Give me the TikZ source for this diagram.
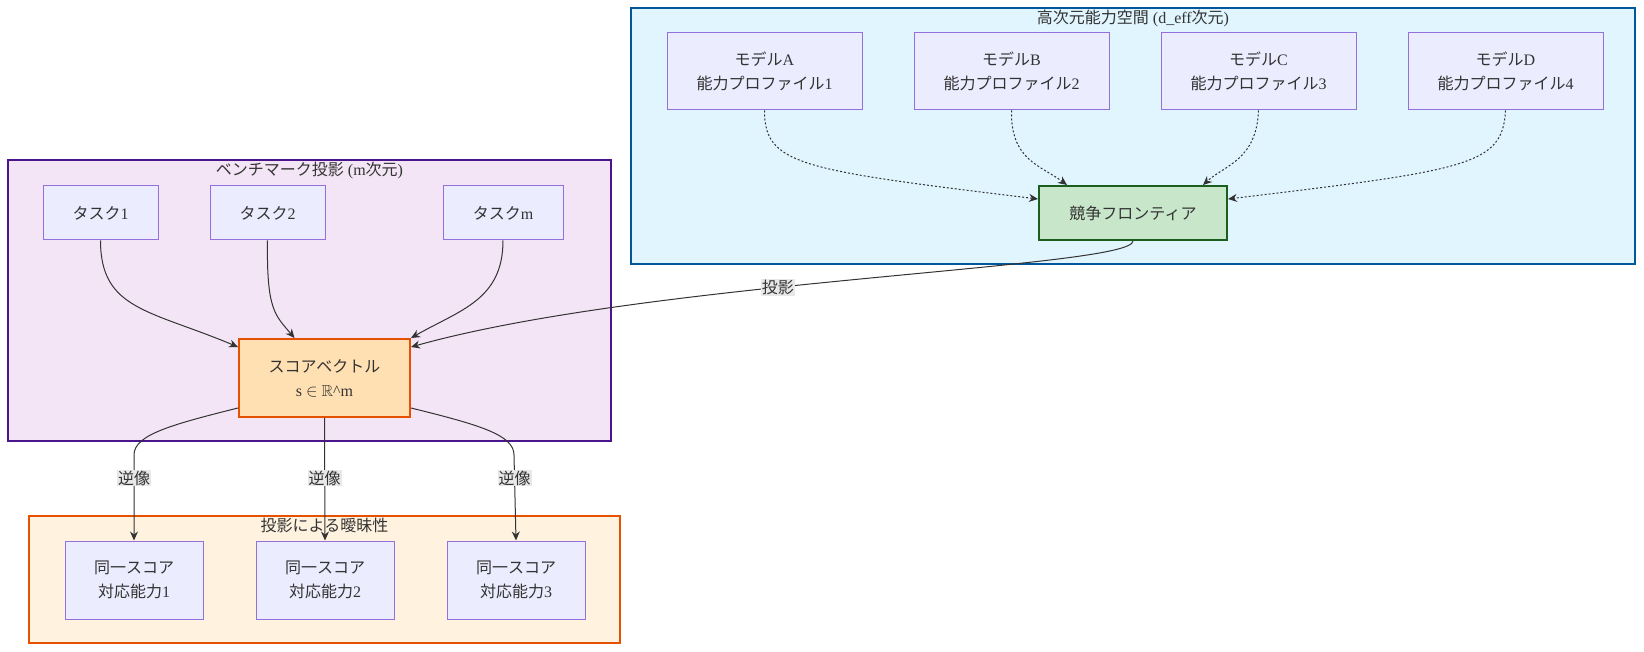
\documentclass[tikz,border=0pt]{standalone}
\usepackage{fontspec}
\usepackage{amssymb}
\setmainfont{Liberation Serif}
\newfontfamily\jp{Noto Sans CJK JP}
\usetikzlibrary{arrows.meta, positioning, calc}

\definecolor{txt}{HTML}{333333}
\definecolor{hdfill}{HTML}{E1F5FE}
\definecolor{hdline}{HTML}{01579B}
\definecolor{bmfill}{HTML}{F3E5F5}
\definecolor{bmline}{HTML}{4A148C}
\definecolor{amfill}{HTML}{FFF3E0}
\definecolor{amline}{HTML}{E65100}
\definecolor{boxfill}{HTML}{ECECFF}
\definecolor{boxline}{HTML}{9370DB}
\definecolor{frfill}{HTML}{C8E6C9}
\definecolor{frline}{HTML}{1B5E20}
\definecolor{svfill}{HTML}{FFE0B2}
\definecolor{svline}{HTML}{E65100}
\definecolor{lblfill}{HTML}{E8E8E8}

\begin{document}
\begin{tikzpicture}[x=1pt, y=-1pt, >={Stealth[length=9pt, width=8pt]}, font=\fontsize{16}{24}\selectfont, text=txt]
    \tikzset{cluster/.style={draw, line width=2pt, inner sep=0pt},
             cltitle/.style={anchor=north, inner sep=3pt, text=txt},
             box/.style={draw=boxline, fill=boxfill, line width=1pt, align=center, inner sep=0pt},
             edge/.style={draw=txt, line width=1pt, ->},
             dotedge/.style={edge, dash pattern=on 2pt off 2pt},
             elabel/.style={fill=lblfill, inner sep=1pt, text=txt}}
    \useasboundingbox (0,0) rectangle (1644,652);

    % clusters
    \node[cluster, draw=hdline, fill=hdfill, minimum width=1004pt, minimum height=256pt,
          label={[cltitle]north:{{\jp 高次元能力空間} (d\_eff{\jp 次元})}}] (hd) at (1133,136) {};
    \node[cluster, draw=bmline, fill=bmfill, minimum width=603pt, minimum height=281pt,
          label={[cltitle]north:{{\jp ベンチマーク投影} (m{\jp 次元})}}] (bm) at (309.5,300.5) {};
    \node[cluster, draw=amline, fill=amfill, minimum width=591pt, minimum height=127pt,
          label={[cltitle]north:{{\jp 投影による曖昧性}}}] (am) at (324.5,579.5) {};

    % models
    \node[box, minimum width=195pt, minimum height=77pt] (mA) at (764.5,71.5) {{\jp モデル}A\\{\jp 能力プロファイル}1};
    \node[box, minimum width=195pt, minimum height=77pt, right=51pt of mA] (mB) {{\jp モデル}B\\{\jp 能力プロファイル}2};
    \node[box, minimum width=195pt, minimum height=77pt, right=51pt of mB] (mC) {{\jp モデル}C\\{\jp 能力プロファイル}3};
    \node[box, minimum width=195pt, minimum height=77pt, right=51pt of mC] (mD) {{\jp モデル}D\\{\jp 能力プロファイル}4};
    \node[box, fill=frfill, draw=frline, line width=2pt, minimum width=188pt, minimum height=54pt] (fr) at (1133,213) {{\jp 競争フロンティア}};

    % tasks and score
    \node[box, minimum width=115pt, minimum height=54pt] (t1) at (100.5,213) {{\jp タスク}1};
    \node[box, minimum width=115pt, minimum height=54pt, right=51pt of t1] (t2) {{\jp タスク}2};
    \node[box, minimum width=120pt, minimum height=54pt] (tm) at (503,213) {{\jp タスク}m};
    \node[box, fill=svfill, draw=svline, line width=2pt, minimum width=171pt, minimum height=78pt] (sv) at (324.5,378)
        {{\jp スコアベクトル}\\s $\in$ $\mathbb{R}$\textasciicircum m};

    % same score
    \node[box, minimum width=138pt, minimum height=78pt] (s1) at (134,580) {{\jp 同一スコア}\\{\jp 対応能力}1};
    \node[box, minimum width=138pt, minimum height=78pt, right=52pt of s1] (s2) {{\jp 同一スコア}\\{\jp 対応能力}2};
    \node[box, minimum width=138pt, minimum height=78pt, right=52pt of s2] (s3) {{\jp 同一スコア}\\{\jp 対応能力}3};

    % edges
    \draw[dotedge] (mA.south) .. controls (764.5,165) and (800,170) .. ([yshift=14pt]fr.west);
    \draw[dotedge] (mB.south) .. controls (1010.5,160) and (1040,165) .. ([xshift=-66pt]fr.north);
    \draw[dotedge] (mC.south) .. controls (1256.5,160) and (1225,165) .. ([xshift=70pt]fr.north);
    \draw[dotedge] (mD.south) .. controls (1502.5,165) and (1470,170) .. ([yshift=14pt]fr.east);

    \draw[edge] (t1.south) .. controls (100.5,310) and (150,310) .. ([yshift=-9pt]sv.north west);
    \draw[edge] (t2.south) .. controls (266.5,310) and (275,315) .. ([xshift=-30pt]sv.north);
    \draw[edge] (tm.south) .. controls (503,300) and (460,310) .. (sv.north east);
    \draw[edge] (fr.south) .. controls (1133,268) and (650,280) .. ([yshift=-9pt]sv.north east)
        node[elabel, pos=0.59] {{\jp 投影}};

    \draw[edge] ([yshift=-30pt]sv.west) .. controls (170,425) and (134,435) .. (134,455)
        -- node[elabel, pos=0.27] {{\jp 逆像}} (s1.north);
    \draw[edge] (sv.south) -- node[elabel, pos=0.49] {{\jp 逆像}} (s2.north);
    \draw[edge] ([yshift=-30pt]sv.east) .. controls (480,425) and (514,435) .. (514,455)
        -- node[elabel, pos=0.27] {{\jp 逆像}} (s3.north);
\end{tikzpicture}
\end{document}
